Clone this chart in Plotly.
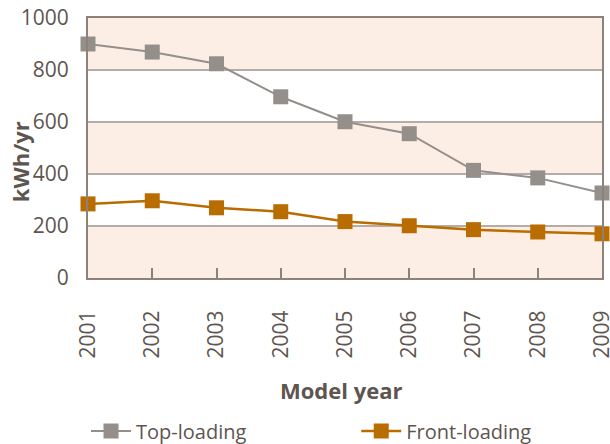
import plotly.graph_objects as go

ANOS = [2001, 2002, 2003, 2004, 2005, 2006, 2007, 2008, 2009]
TOP_LOADING = [900, 869, 824, 697, 601, 555, 414, 385, 327]
FRONT_LOADING = [285, 297, 270, 255, 217, 201, 186, 177, 170]
FAIXAS = [(0, 200), (400, 600), (800, 1000)]

CINZA = "#958F8B"
LARANJA = "#B96C00"
TINTA = "#5E554F"
EIXO = "#8C817B"
GRADE = "#B4ACA7"
PESSEGO = "#FCEEE5"
FONTE = "Open Sans"

fig = go.Figure()
fig.add_trace(go.Scatter(x=ANOS, y=TOP_LOADING, name="Top-loading",
                         mode="lines+markers", cliponaxis=False, legend="legend",
                         line=dict(color=CINZA, width=2),
                         marker=dict(symbol="square", size=15, color=CINZA)))
fig.add_trace(go.Scatter(x=ANOS, y=FRONT_LOADING, name="Front-loading",
                         mode="lines+markers", cliponaxis=False, legend="legend2",
                         line=dict(color=LARANJA, width=2.5),
                         marker=dict(symbol="square", size=15, color=LARANJA)))

for y0, y1 in FAIXAS:
    fig.add_shape(type="rect", xref="paper", yref="y", x0=0, x1=1, y0=y0, y1=y1,
                  fillcolor=PESSEGO, line_width=0, layer="below")

# títulos dos eixos como anotações, para posicionar no pixel
fig.add_annotation(text="<b>kWh/yr</b>", xref="paper", yref="paper",
                   x=-0.132, y=0.446, xanchor="center", yanchor="middle",
                   textangle=-90, showarrow=False,
                   font=dict(size=22, color=TINTA))
fig.add_annotation(text="<b>Model year</b>", xref="paper", yref="paper",
                   x=0.494, y=-0.431, xanchor="center", yanchor="middle",
                   showarrow=False, font=dict(size=22, color=TINTA))

_LEG = dict(orientation="h", xref="container", yref="container", y=0.029,
            xanchor="left", yanchor="middle", itemwidth=40,
            font=dict(size=20, color=TINTA), bgcolor="rgba(0,0,0,0)")

fig.update_layout(
    width=610, height=444,
    margin=dict(l=88, r=8, t=18, b=166),
    paper_bgcolor="white", plot_bgcolor="white",
    font=dict(family=FONTE, color=TINTA, size=21),
    showlegend=True,
    legend=dict(**_LEG, x=0.141),
    legend2=dict(**_LEG, x=0.584),
    xaxis=dict(range=[2001, 2009], tickmode="array", tickvals=ANOS,
               ticktext=[str(a) for a in ANOS], tickangle=-90,
               ticks="inside", ticklen=10, tickcolor=EIXO, tickwidth=1.5,
               ticklabelstandoff=22, ticklabeloverflow="allow",
               showgrid=False, zeroline=False,
               showline=True, linecolor=EIXO, linewidth=2, mirror=True,
               automargin=False, tickfont=dict(size=21, color=TINTA)),
    yaxis=dict(range=[0, 1000], tickvals=[0, 200, 400, 600, 800, 1000],
               ticks="", ticklabelstandoff=13, ticklabeloverflow="allow",
               showgrid=True, gridcolor=GRADE,
               gridwidth=1.5, zeroline=False, showline=True, linecolor=EIXO,
               linewidth=2, mirror=True, automargin=False,
               tickfont=dict(size=21, color=TINTA)),
)

fig.write_html("out.html", config={"displayModeBar": False},
               post_script="document.body.style.margin = '0';")
